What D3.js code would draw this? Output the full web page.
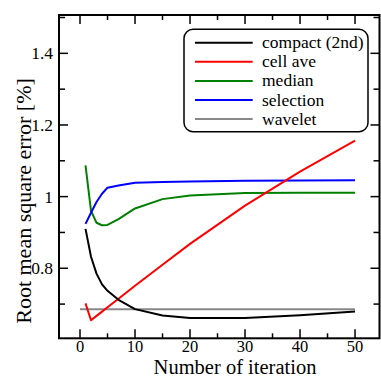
<!DOCTYPE html>
<html><head><meta charset="utf-8">
<script src="https://cdn.jsdelivr.net/npm/d3@7"></script>
<style>html,body{margin:0;padding:0;background:#fff;}svg{display:block;} text{font-family:"Liberation Serif","Tinos","Times New Roman","DejaVu Serif",serif;}</style>
</head><body>
<script>
const iterations = [1, 2, 3, 4, 5, 7, 10, 15, 20, 30, 40, 50];
const compact2nd = [0.910, 0.832, 0.785, 0.755, 0.737, 0.712, 0.686, 0.668, 0.661, 0.661, 0.669, 0.679];
const cellAve    = [0.702, 0.655, 0.667, 0.679, 0.691, 0.715, 0.751, 0.810, 0.868, 0.975, 1.070, 1.156];
const median     = [1.087, 0.960, 0.927, 0.920, 0.921, 0.937, 0.967, 0.993, 1.003, 1.010, 1.011, 1.011];
const selection  = [0.924, 0.955, 0.985, 1.008, 1.025, 1.031, 1.039, 1.041, 1.042, 1.044, 1.045, 1.046];
const waveletX   = [0, 50];
const wavelet    = [0.6855, 0.6855];
const seriesNames = ["compact (2nd)", "cell ave", "median", "selection", "wavelet"];
const seriesColors = ["#000000", "#ff0000", "#008000", "#0000ff", "#888888"];
const xTicks = [0, 10, 20, 30, 40, 50];
const xMinorTicks = [5, 15, 25, 35, 45];
const yTicks = [0.8, 1, 1.2, 1.4];
const yTickLabels = ["0.8", "1", "1.2", "1.4"];
const yMinorTicks = [0.7, 0.9, 1.1, 1.3, 1.5];

const W = 381, H = 379;
const L = 59, R = 379.5, T = 15, B = 338.3;
const svg = d3.select("body").append("svg").attr("width", W).attr("height", H);
const x = d3.scaleLinear().domain([-3.82, 54.45]).range([L, R]);
const y = d3.scaleLinear().domain([0.6045, 1.507]).range([B, T]);

// ticks (inward, all four sides)
const tk = svg.append("g").attr("stroke", "#000").attr("stroke-width", 1.5);
xTicks.forEach(v => {
  tk.append("line").attr("x1", x(v)).attr("x2", x(v)).attr("y1", B).attr("y2", B - 9);
  tk.append("line").attr("x1", x(v)).attr("x2", x(v)).attr("y1", T).attr("y2", T + 9);
});
xMinorTicks.forEach(v => {
  tk.append("line").attr("x1", x(v)).attr("x2", x(v)).attr("y1", B).attr("y2", B - 5);
  tk.append("line").attr("x1", x(v)).attr("x2", x(v)).attr("y1", T).attr("y2", T + 5);
});
yTicks.forEach(v => {
  tk.append("line").attr("y1", y(v)).attr("y2", y(v)).attr("x1", L).attr("x2", L + 9);
  tk.append("line").attr("y1", y(v)).attr("y2", y(v)).attr("x1", R).attr("x2", R - 9);
});
yMinorTicks.forEach(v => {
  tk.append("line").attr("y1", y(v)).attr("y2", y(v)).attr("x1", L).attr("x2", L + 6);
  tk.append("line").attr("y1", y(v)).attr("y2", y(v)).attr("x1", R).attr("x2", R - 6);
});

// tick labels
svg.append("g").selectAll("text").data(xTicks).join("text")
  .attr("x", d => x(d)).attr("y", 352).attr("text-anchor", "middle")
  .attr("font-size", 16.5).text(d => d);
svg.append("g").selectAll("text").data(yTicks).join("text")
  .attr("x", 53).attr("y", d => y(d) + 6).attr("text-anchor", "end")
  .attr("font-size", 17.5).text((d, i) => yTickLabels[i]);

// lines
const lineGen = d3.line().x(d => x(d[0])).y(d => y(d[1]));
svg.append("clipPath").attr("id", "plotclip").append("rect").attr("x", L).attr("y", T).attr("width", R - L).attr("height", B - T);
const gL = svg.append("g").attr("clip-path", "url(#plotclip)");
const allSeries = [
  [iterations, compact2nd], [iterations, cellAve], [iterations, median], [iterations, selection], [waveletX, wavelet]
];
const drawOrder = [4, 2, 3, 1, 0];
drawOrder.forEach(i => {
  const [xs, ys] = allSeries[i];
  gL.append("path").datum(xs.map((v, j) => [v, ys[j]]))
    .attr("d", lineGen).attr("fill", "none").attr("stroke", seriesColors[i])
    .attr("stroke-width", 2).attr("stroke-linejoin", "round");
});

// frame
svg.append("rect").attr("x", L).attr("y", T).attr("width", R - L).attr("height", B - T)
  .attr("fill", "none").attr("stroke", "#000").attr("stroke-width", 2);

// legend
const lg = svg.append("g");
lg.append("rect").attr("x", 184).attr("y", 29.3).attr("width", 184).attr("height", 102.4)
  .attr("rx", 9).attr("ry", 9).attr("fill", "#fff").attr("stroke", "#000").attr("stroke-width", 1.5);
seriesNames.forEach((n, i) => {
  const yy = 42.7 + i * 19.1;
  lg.append("line").attr("x1", 195).attr("x2", 252.7).attr("y1", yy).attr("y2", yy)
    .attr("stroke", seriesColors[i]).attr("stroke-width", 2);
  lg.append("text").attr("x", 262).attr("y", yy + 5.5)
    .attr("font-size", 17.5).text(n);
});

// axis titles
svg.append("text").attr("x", 235).attr("y", 374).attr("text-anchor", "middle")
  .attr("font-size", 20.5).text("Number of iteration");
svg.append("text").attr("transform", "translate(30.5,201) rotate(-90)").attr("text-anchor", "middle")
  .attr("font-size", 22).text("Root mean square error [%]");
</script>
</body></html>
